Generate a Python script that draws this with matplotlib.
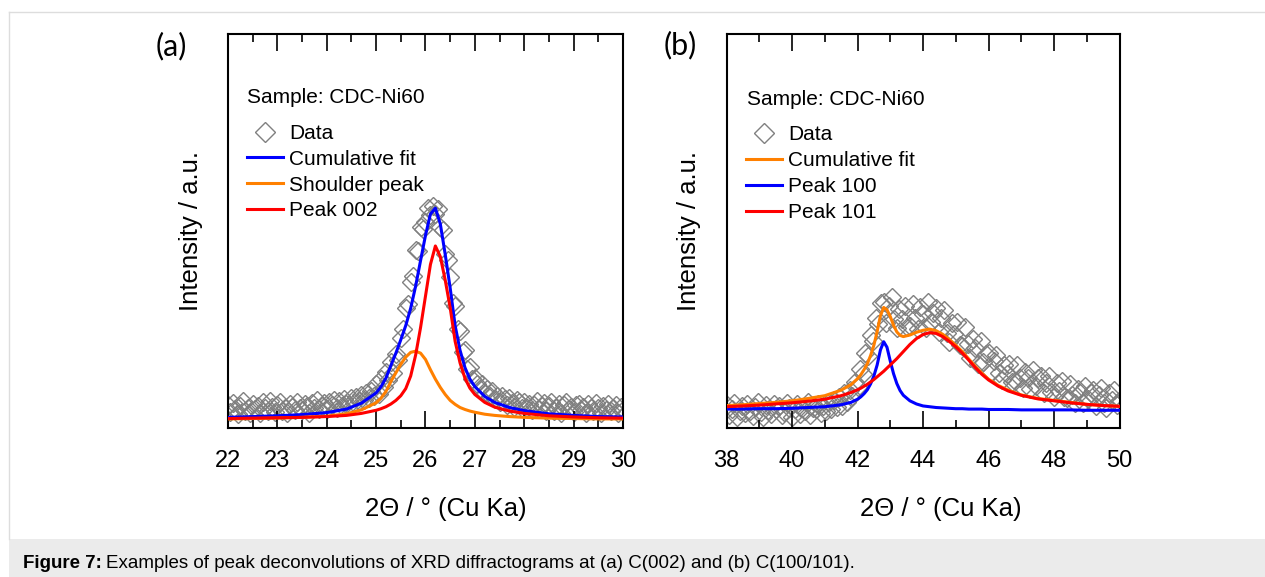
import numpy as np
import matplotlib
matplotlib.use("Agg")
import matplotlib.pyplot as plt
from matplotlib.lines import Line2D
from matplotlib.patches import Rectangle
from matplotlib.ticker import MultipleLocator

plt.rcParams['font.family'] = ['Liberation Sans', 'DejaVu Sans']

# ---------------- Panel (a): C(002) ----------------
a_scan_start = 22.0
a_scan_step = 0.05
a_data = [
    5.9, 4.1, 6.3, 4.8, 3.6, 5.5, 6.8, 4.4, 5.1, 3.9,
    6.2, 4.7, 5.6, 3.8, 6.5, 5.0, 4.2, 6.9, 5.3, 4.0,
    5.8, 6.6, 4.3, 5.1, 3.7, 6.0, 5.4, 4.6, 6.7, 5.2,
    4.5, 6.1, 5.7, 3.9, 6.4, 5.0, 7.0, 4.8, 5.5, 6.3,
    4.7, 6.6, 5.9, 7.1, 5.2, 6.8, 5.6, 7.4, 6.2, 5.8,
    7.5, 6.4, 7.9, 6.9, 8.3, 7.2, 8.8, 7.6, 9.4, 8.1,
    11.2, 8.6, 12.4, 10.5, 14.3, 12.1, 16.7, 13.9, 18.8, 17.3,
    22.9, 25.1, 30.4, 31.5, 37.0, 38.6, 45.3, 44.8, 51.1, 50.6,
    52.4, 55.9, 54.0, 56.4, 54.2, 55.6, 51.0, 50.2, 44.1, 42.6,
    38.3, 31.8, 31.0, 25.2, 24.6, 19.4, 19.8, 15.0, 15.6, 12.4,
    12.8, 11.2, 10.0, 11.1, 9.0, 9.9, 8.1, 9.3, 7.4, 8.2,
    6.5, 8.0, 7.3, 5.9, 7.6, 6.3, 5.4, 7.1, 6.6, 5.2,
    6.7, 5.0, 6.2, 4.6, 5.9, 6.8, 4.9, 5.5, 6.4, 4.3,
    5.7, 6.6, 4.4, 5.2, 6.1, 3.9, 5.8, 6.5, 4.7, 5.3,
    4.1, 5.9, 6.2, 4.5, 5.4, 3.8, 6.0, 5.1, 4.3, 6.4,
    5.2, 3.9, 5.7, 4.6, 6.1, 4.2, 5.0, 5.8, 3.7, 5.3,
    4.6]
a_fit_x = [22.0, 22.5, 23.0, 23.5, 24.0, 24.4, 24.7,
           25.0, 25.1, 25.2, 25.3, 25.4, 25.5, 25.6, 25.7, 25.8, 25.9,
           26.0, 26.1, 26.2, 26.3, 26.4, 26.5, 26.6, 26.7, 26.8, 26.9,
           27.0, 27.2, 27.4, 27.7, 28.0, 28.5, 29.0, 29.5, 30.0]
a_cumulative = [2.7, 2.9, 3.1, 3.4, 3.9, 4.8, 6.3,
                8.9, 10.5, 12.7, 15.9, 19.0, 22.4, 26.0, 30.4, 36.0, 42.5,
                48.9, 54.3, 55.8, 51.8, 44.0, 35.5, 26.0, 19.7, 15.3, 12.4,
                10.5, 8.0, 6.5, 5.2, 4.4, 3.6, 3.2, 2.9, 2.8]
a_shoulder = [2.3, 2.4, 2.5, 2.7, 3.0, 3.6, 4.6,
              6.4, 7.6, 9.3, 11.8, 14.0, 16.2, 18.0, 19.2, 19.5, 19.0,
              17.4, 14.8, 12.4, 10.3, 8.5, 7.0, 6.0, 5.2, 4.7, 4.3,
              4.0, 3.5, 3.2, 2.9, 2.7, 2.5, 2.4, 2.3, 2.3]
a_peak002 = [2.4, 2.5, 2.6, 2.7, 2.9, 3.2, 3.7,
             4.5, 4.9, 5.4, 6.1, 7.0, 8.2, 10.0, 13.2, 18.5, 25.5,
             33.5, 41.5, 46.2, 43.5, 37.5, 30.5, 22.0, 16.5, 12.6, 10.1,
             8.5, 6.5, 5.3, 4.3, 3.7, 3.1, 2.8, 2.6, 2.5]
a_xlim = (22, 30)

# ---------------- Panel (b): C(100/101) ----------------
b_scan_start = 38.0
b_scan_step = 0.08
b_data = [
    5.8, 3.4, 4.9, 6.3, 2.9, 4.4, 5.6, 3.7, 6.1, 4.2,
    3.1, 5.3, 6.6, 4.0, 2.7, 5.9, 4.6, 3.5, 6.2, 4.8,
    5.5, 3.3, 4.1, 6.4, 5.0, 2.8, 4.7, 6.0, 3.6, 5.2,
    4.3, 6.5, 3.2, 5.1, 4.8, 6.2, 3.9, 5.7, 4.4, 6.6,
    4.7, 7.1, 5.3, 7.8, 5.6, 8.9, 6.5, 9.7, 8.1, 11.6,
    10.4, 14.9, 13.8, 19.1, 18.2, 23.6, 22.1, 28.0, 26.5, 31.8,
    32.1, 26.7, 30.9, 33.2, 27.6, 25.4, 30.3, 27.6, 31.0, 25.6,
    25.9, 31.5, 27.9, 25.1, 30.6, 29.0, 25.5, 31.9, 26.9, 29.3,
    30.4, 24.4, 28.0, 30.0, 24.2, 21.8, 26.7, 23.9, 27.0, 21.1,
    20.7, 25.6, 21.2, 17.7, 22.5, 20.2, 16.2, 22.1, 16.7, 18.8,
    19.1, 14.1, 16.9, 18.5, 14.0, 12.1, 16.0, 13.6, 16.2, 11.6,
    11.9, 16.0, 12.8, 10.2, 14.2, 12.7, 9.8, 14.8, 10.7, 12.6,
    13.1, 8.9, 11.5, 13.1, 9.2, 7.8, 11.3, 9.5, 11.9, 7.9,
    7.5, 11.2, 8.5, 6.3, 10.0, 8.8, 6.3, 10.7, 7.3, 9.0,
    9.7, 5.7, 8.4, 10.2, 6.4, 5.2, 8.8, 7.1, 9.6, 5.8,
    7.0]
b_fit_x = [38.0, 38.5, 39.0, 39.5, 40.0, 40.5, 41.0, 41.5, 41.8,
           42.0, 42.1, 42.2, 42.3, 42.4, 42.5, 42.6, 42.7, 42.8, 42.9,
           43.0, 43.1, 43.2, 43.3, 43.4,
           43.6, 43.8, 44.0, 44.2, 44.4, 44.6, 44.8, 45.0, 45.2, 45.4,
           45.6, 45.8, 46.0,
           46.3, 46.6, 47.0, 47.5, 48.0, 48.5, 49.0, 49.5, 50.0]
b_cumulative = [5.7, 5.9, 6.2, 6.5, 6.9, 7.5, 8.2, 9.6, 11.0,
                12.5, 13.5, 14.8, 16.3, 18.4, 21.0, 24.5, 28.5, 30.6, 30.0,
                28.3, 26.1, 24.4, 23.5, 23.2,
                23.6, 24.3, 24.8, 25.1, 24.7, 23.8, 22.5, 21.0, 19.4, 17.5,
                15.6, 13.9, 12.4,
                10.8, 9.6, 8.4, 7.5, 7.0, 6.5, 6.0, 5.7, 5.5]
b_peak100 = [4.8, 4.8, 4.9, 4.9, 5.0, 5.2, 5.4, 5.9, 6.5,
             7.3, 7.9, 8.7, 9.7, 11.2, 13.2, 16.0, 19.8, 21.9, 20.5,
             17.0, 13.8, 11.3, 9.5, 8.3,
             6.9, 6.1, 5.6, 5.4, 5.2, 5.1, 5.0, 4.9, 4.9, 4.8,
             4.8, 4.8, 4.7,
             4.7, 4.7, 4.6, 4.6, 4.6, 4.6, 4.5, 4.5, 4.5]
b_peak101 = [5.4, 5.6, 5.8, 6.1, 6.4, 6.8, 7.3, 8.2, 9.0,
             9.7, 10.1, 10.6, 11.1, 11.7, 12.3, 13.0, 13.7, 14.4, 15.2,
             16.0, 16.8, 17.6, 18.5, 19.4,
             21.2, 22.7, 23.7, 24.2, 24.0, 23.2, 22.0, 20.6, 19.0, 17.2,
             15.3, 13.6, 12.2,
             10.6, 9.4, 8.3, 7.4, 6.9, 6.4, 6.0, 5.7, 5.5]
b_xlim = (38, 50)

sample_label = "Sample: CDC-Ni60"
a_labels = ["Data", "Cumulative fit", "Shoulder peak", "Peak 002"]
b_labels = ["Data", "Cumulative fit", "Peak 100", "Peak 101"]
xlabel = "2\u0398 / \u00b0 (Cu Ka)"
ylabel = "Intensity / a.u."
caption_bold = "Figure 7:"
caption_rest = "Examples of peak deconvolutions of XRD diffractograms at (a) C(002) and (b) C(100/101)."

BLUE, ORANGE, RED, GREY = "#0000ff", "#ff8000", "#ff0000", "#808080"
W, H = 1265, 577
LEG_FS = 15

fig = plt.figure(figsize=(W / 100, H / 100), dpi=100)
fig.patch.set_facecolor("white")

# page decoration: light border and caption band
fig.patches.append(Rectangle((9 / W, 0), 1 - 9 / W, (H - 539) / H,
                             transform=fig.transFigure, facecolor="#ebebeb",
                             edgecolor="none", zorder=0))
fig.lines.append(Line2D([9 / W, 1], [1 - 12 / H, 1 - 12 / H], transform=fig.transFigure,
                        color="#dddddd", lw=1))
fig.lines.append(Line2D([9 / W, 9 / W], [(H - 539) / H, 1 - 12 / H], transform=fig.transFigure,
                        color="#dddddd", lw=1))

ax_a = fig.add_axes([228 / W, 1 - 428 / H, 395 / W, 394 / H])
ax_b = fig.add_axes([726.5 / W, 1 - 428 / H, 393 / W, 394 / H])

def style(ax, xlim, major, minor, ylab_x, xlab_x):
    ax.set_xlim(*xlim)
    ax.set_ylim(0, 100)
    ax.xaxis.set_major_locator(MultipleLocator(major))
    ax.xaxis.set_minor_locator(MultipleLocator(minor))
    ax.tick_params(axis="x", which="both", direction="in", top=True, bottom=True,
                   width=1.2, labelsize=17, pad=15.5)
    ax.tick_params(axis="x", which="major", length=12)
    ax.tick_params(axis="x", which="minor", length=6)
    ax.tick_params(axis="y", which="both", left=False, right=False, labelleft=False)
    for s in ax.spines.values():
        s.set_linewidth(1.5)
    ax.set_xlabel(xlabel, fontsize=18.5, va="center")
    ax.xaxis.set_label_coords(xlab_x, -(509 - 428) / 394)
    ax.set_ylabel(ylabel, fontsize=18.5, va="center")
    ax.yaxis.set_label_coords(ylab_x, 0.5)

def data_handle():
    return Line2D([], [], ls="none", marker="D", ms=10, mfc="none", mec=GREY, mew=1)

def add_legend(ax, handles, labels, x, y):
    ax.legend(handles, labels, loc="upper left", bbox_to_anchor=(x, y), frameon=False,
              fontsize=LEG_FS, borderpad=0, borderaxespad=0, handlelength=1.74,
              handletextpad=0.29, labelspacing=0.33)

# ---- panel (a)
xa = a_scan_start + a_scan_step * np.arange(len(a_data))
ax_a.plot(xa, a_data, ls="none", marker="D", ms=9, mfc="none", mec=GREY, mew=1, zorder=1)
ax_a.plot(a_fit_x, a_cumulative, color=BLUE, lw=2.2, zorder=3)
ax_a.plot(a_fit_x, a_shoulder, color=ORANGE, lw=2.2, zorder=3)
ax_a.plot(a_fit_x, a_peak002, color=RED, lw=2.2, zorder=3)
style(ax_a, a_xlim, 1, 0.5, -(228 - 191) / 395, 0.552)
ax_a.text(0.049, 0.838, sample_label, transform=ax_a.transAxes, fontsize=LEG_FS,
          ha="left", va="center")
add_legend(ax_a, [data_handle(), Line2D([], [], color=BLUE, lw=2.2),
                  Line2D([], [], color=ORANGE, lw=2.2), Line2D([], [], color=RED, lw=2.2)],
           a_labels, 0.047, 0.772)

# ---- panel (b)
xb = b_scan_start + b_scan_step * np.arange(len(b_data))
ax_b.plot(xb, b_data, ls="none", marker="D", ms=9, mfc="none", mec=GREY, mew=1, zorder=1)
ax_b.plot(b_fit_x, b_cumulative, color=ORANGE, lw=2.2, zorder=3)
ax_b.plot(b_fit_x, b_peak100, color=BLUE, lw=2.2, zorder=3)
ax_b.plot(b_fit_x, b_peak101, color=RED, lw=2.2, zorder=3)
style(ax_b, b_xlim, 2, 1, -(726.5 - 689) / 393, 0.545)
ax_b.text(0.051, 0.835, sample_label, transform=ax_b.transAxes, fontsize=LEG_FS,
          ha="left", va="center")
add_legend(ax_b, [data_handle(), Line2D([], [], color=ORANGE, lw=2.2),
                  Line2D([], [], color=BLUE, lw=2.2), Line2D([], [], color=RED, lw=2.2)],
           b_labels, 0.049, 0.768)

# panel letters
fig.text(171 / W, 1 - 46 / H, "(a)", fontsize=22, family=["Lato", "DejaVu Sans"],
         ha="center", va="center")
fig.text(680 / W, 1 - 45 / H, "(b)", fontsize=22, family=["Lato", "DejaVu Sans"],
         ha="center", va="center")

# caption
cap_y = 1 - 563 / H
t1 = fig.text(23 / W, cap_y, caption_bold, fontsize=13.5, weight="bold", ha="left", va="center")
fig.canvas.draw()
bb = t1.get_window_extent(fig.canvas.get_renderer())
fig.text((bb.x1 + 4) / W, cap_y, caption_rest, fontsize=13.5, ha="left", va="center")

fig.savefig("out.png", dpi=100, facecolor="white")
